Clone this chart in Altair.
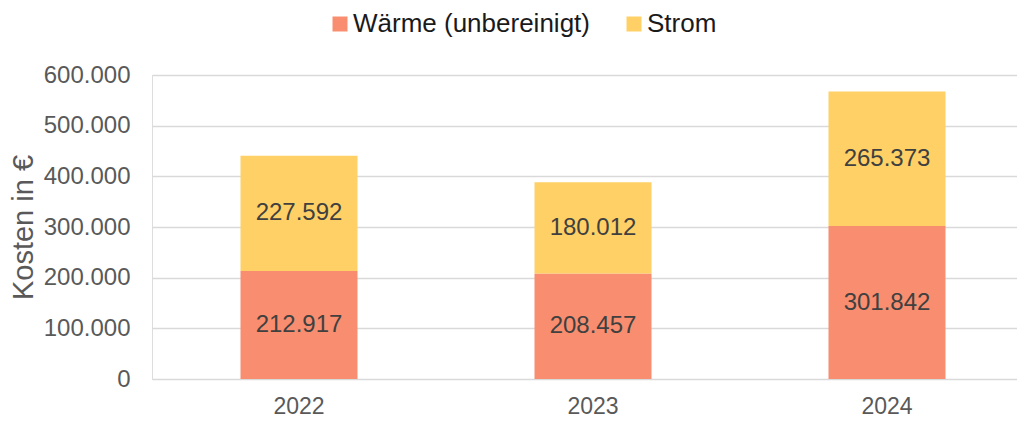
import altair as alt
import pandas as pd

years = ["2022", "2023", "2024"]
waerme = [212917, 208457, 301842]
strom = [227592, 180012, 265373]
series = ["Wärme (unbereinigt)", "Strom"]
colors = ["#F88E6F", "#FFD065"]
y_ticks = [0, 100000, 200000, 300000, 400000, 500000, 600000]

rows = []
for i, yr in enumerate(years):
    base = 0
    for k, (name, vals) in enumerate(zip(series, [waerme, strom])):
        v = vals[i]
        rows.append({
            "Jahr": yr,
            "Serie": name,
            "ord": k,
            "Wert": v,
            "mid": base + v / 2,
            "label": f"{v:,}".replace(",", "."),
        })
        base += v
df = pd.DataFrame(rows)

FONT = "Liberation Sans"

x_enc = alt.X(
    "Jahr:N",
    sort=years,
    scale=alt.Scale(range=[0, 882], paddingInner=0, paddingOuter=0),
    axis=alt.Axis(
        title=None, labelAngle=0, labelFontSize=23, labelColor="#595959",
        labelFont=FONT, domain=False, ticks=False, labelPadding=16, grid=False,
    ),
)

y_scale = alt.Scale(domain=[0, 600000], nice=False)

bars = alt.Chart(df).mark_bar(size=117).encode(
    x=x_enc,
    y=alt.Y(
        "Wert:Q",
        stack="zero",
        scale=y_scale,
        axis=alt.Axis(
            title="Kosten in €", titleFontSize=29, titleColor="#595959",
            titleFont=FONT, titleFontWeight="normal", titlePadding=5,
            values=y_ticks, labelFontSize=24, labelColor="#595959",
            labelFont=FONT, labelPadding=22, domain=False, ticks=False,
            grid=True, gridColor="#d9d9d9", gridWidth=1.5,
            labelExpr="replace(format(datum.value, ','), ',', '.')",
        ),
    ),
    color=alt.Color(
        "Serie:N",
        scale=alt.Scale(domain=series, range=colors),
        legend=alt.Legend(
            title=None, orient="none", direction="horizontal",
            legendX=175, legendY=-64, symbolType="square", symbolSize=225,
            symbolStrokeWidth=0, labelFontSize=26, labelFont=FONT,
            labelColor="#1a1a1a", labelOffset=0, columnPadding=31,
            labelLimit=400,
        ),
    ),
    order=alt.Order("ord:Q", sort="ascending"),
)

texts = alt.Chart(df).mark_text(
    fontSize=24, font=FONT, color="#404040", baseline="middle", align="center"
).encode(
    x=alt.X("Jahr:N", sort=years),
    y=alt.Y("mid:Q", scale=y_scale),
    text="label:N",
)

chart = (
    alt.layer(bars, texts)
    .properties(
        width=865,
        height=304,
        autosize=alt.AutoSizeParams(type="none"),
        padding={"left": 144, "top": 67, "right": 0, "bottom": 44},
    )
    .configure_view(stroke=None)
    .configure(background="white")
)

chart.save("out.html", embed_options={"renderer": "svg", "actions": False})
